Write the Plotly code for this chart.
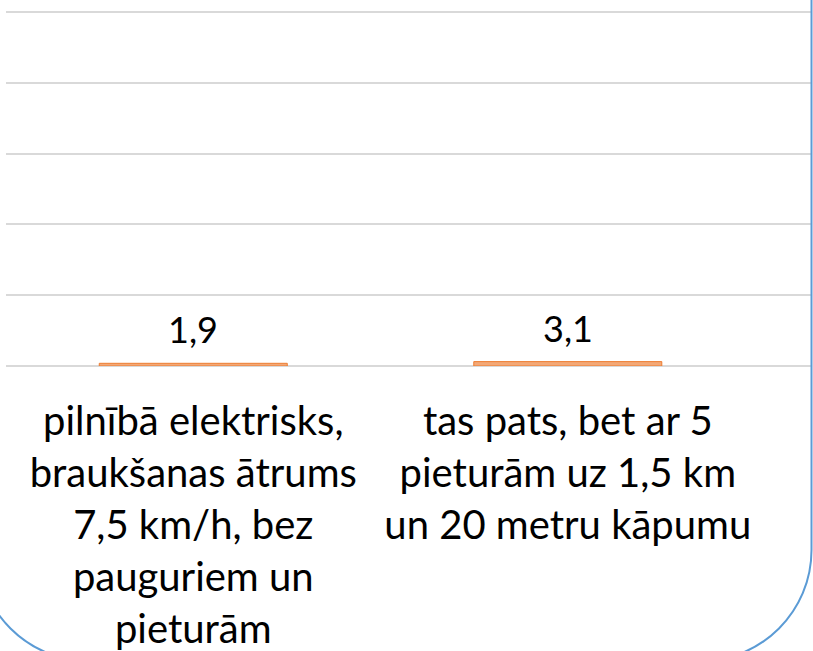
import plotly.graph_objects as go

categories = [
    "pilnībā elektrisks,<br>braukšanas ātrums<br>7,5 km/h, bez<br>pauguriem un<br>pieturām",
    "tas pats, bet ar 5<br>pieturām uz 1,5 km<br>un 20 metru kāpumu",
]
values = [1.9, 3.1]

W, H = 813, 651
ML, MR, MT, MB = 6, 1, 0, 285
PW, PH = W - ML - MR, H - MT - MB


def px(x, y):
    # pixel -> paper coords
    return (x - ML) / PW, (H - MB - y) / PH


def rounded_box(left, top, right, bottom, r):
    k = 0.5523 * r
    pts = [
        ("M", [(left, top)]),
        ("L", [(right, top)]),
        ("L", [(right, bottom - r)]),
        ("C", [(right, bottom - r + k), (right - r + k, bottom), (right - r, bottom)]),
        ("L", [(left + r, bottom)]),
        ("C", [(left + r - k, bottom), (left, bottom - r + k), (left, bottom - r)]),
        ("Z", []),
    ]
    out = []
    for cmd, coords in pts:
        s = cmd
        for (x, y) in coords:
            a, b = px(x, y)
            s += f" {a:.5f},{b:.5f}"
        out.append(s)
    return " ".join(out)


fig = go.Figure()
fig.add_trace(go.Bar(
    x=[0, 1], y=values,
    marker=dict(color="#F3A877", line=dict(color="#ED7D31", width=1)),
    width=0.502,
    hoverinfo="skip",
))

for i, v in enumerate(values):
    fig.add_annotation(
        x=i, y=v, text=f"{v:.1f}".replace(".", ","),
        showarrow=False, yanchor="bottom", yshift=10,
        font=dict(family="Lato", size=36, color="#000000"),
    )

fig.add_shape(
    type="path", xref="paper", yref="paper",
    path=rounded_box(-22, -20, 811.5, 661, 111),
    line=dict(color="#5B9BD5", width=2), layer="above",
)

fig.update_layout(
    width=W, height=H,
    margin=dict(l=ML, r=MR, t=MT, b=MB),
    paper_bgcolor="white", plot_bgcolor="white",
    showlegend=False,
    xaxis=dict(
        tickmode="array", tickvals=[0, 1], ticktext=categories,
        range=[-0.5, 1.652], showgrid=False, zeroline=False,
        showline=False, ticks="",
        tickfont=dict(family="Lato", size=40, color="#000000"),
        ticklabelstandoff=28,
    ),
    yaxis=dict(
        range=[0, 258.5], dtick=50, showticklabels=False,
        showgrid=True, gridcolor="#D9D9D9", gridwidth=2,
        zeroline=True, zerolinecolor="#D9D9D9", zerolinewidth=2,
        showline=False, ticks="",
    ),
)

fig.write_html("out.html", config={"displayModeBar": False},
               post_script="document.body.style.margin='0px';")
